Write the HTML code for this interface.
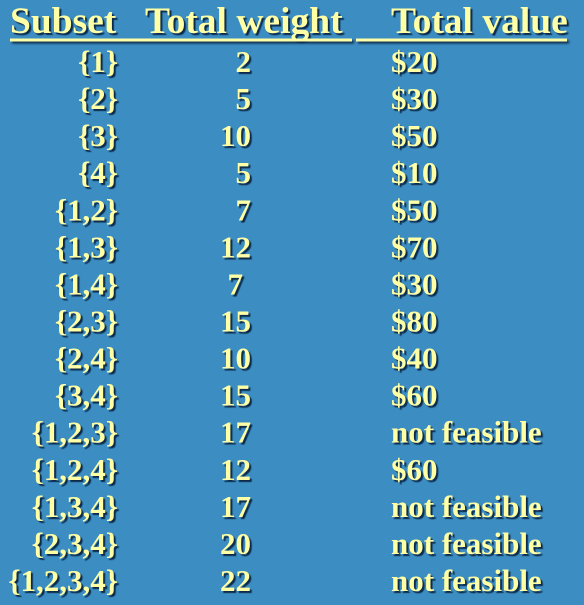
<!DOCTYPE html>
<html><head><meta charset="utf-8"><style>
html,body{margin:0;padding:0;background:#3c8dc2;}
svg{display:block}
text{font-family:"Liberation Serif",serif;font-weight:bold;fill:#ffffa6;text-shadow:2px 2px 1px #0d2a4a;}
</style></head><body>
<svg width="584" height="605">
<rect width="584" height="605" fill="#3c8dc2"/>
<g font-size="37.5">
<text x="10" y="33">Subset</text>
<text x="145" y="33">Total weight</text>
<text x="391" y="33">Total value</text>
</g>
<rect x="10" y="38.5" width="342" height="3" fill="#ffffa6" style="filter:drop-shadow(2px 2px 1px #0d2a4a)"/>
<rect x="356" y="38.5" width="211" height="3" fill="#ffffa6" style="filter:drop-shadow(2px 2px 1px #0d2a4a)"/>
<g id="rows" font-size="31"></g>
</svg>
<script>
const subsets=["{1}","{2}","{3}","{4}","{1,2}","{1,3}","{1,4}","{2,3}","{2,4}","{3,4}","{1,2,3}","{1,2,4}","{1,3,4}","{2,3,4}","{1,2,3,4}"];
const weights=["2","5","10","5","7","12","7","15","10","15","17","12","17","20","22"];
const values=["$20","$30","$50","$10","$50","$70","$30","$80","$40","$60","not feasible","$60","not feasible","not feasible","not feasible"];
const g=document.getElementById('rows');
const NS="http://www.w3.org/2000/svg";
function mk(x,y,txt,anchor,name){
  const t=document.createElementNS(NS,'text');
  t.setAttribute('x',x);t.setAttribute('y',y);
  t.setAttribute('text-anchor',anchor);
  t.textContent=txt;
  
  
  g.appendChild(t);
}
subsets.forEach((s,i)=>{
  const y=72+37.07*i;
  mk(118,y,s,'end','subset-cell');
  const w=weights[i];
  const wx=(i===6)?243:251;
  mk(wx,y,w,'end','weight-cell');
  mk(391,y,values[i],'start','value-cell');
});
</script>
</body></html>
